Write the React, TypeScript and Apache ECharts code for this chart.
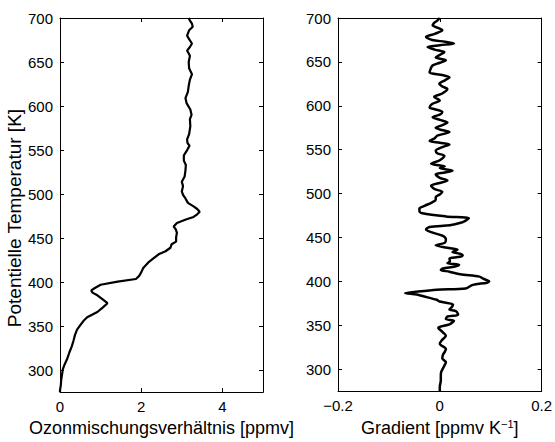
import React, { useEffect, useRef } from "react";
import * as echarts from "echarts";

// Left panel: ozone mixing ratio [ppmv] vs potential temperature [K]
const ozoneTheta = [
  275, 277, 283, 289, 295, 301, 306, 312, 320, 327, 333, 340, 346, 351, 356, 360, 366, 371, 376, 380,
  385, 388, 390.5, 393, 397, 400.5, 403.5, 407, 411, 416, 422, 427, 431.5, 435, 439, 443, 446, 451, 456, 460,
  463, 467, 471, 474, 477, 480, 483, 486, 490, 495, 499, 503, 509, 514, 520, 527, 533, 538, 544, 549,
  555, 558, 562, 568, 577, 585, 590, 596, 603, 609, 616, 623, 630, 636, 643, 650, 657, 663, 667, 671,
  676, 680, 686, 690, 693.5, 697, 700,
];
const ozoneValue = [
  0.0, 0.0, 0.02, 0.03, 0.05, 0.07, 0.11, 0.17, 0.23, 0.29, 0.33, 0.37, 0.42, 0.5, 0.58, 0.67, 0.92, 1.05, 1.17, 1.06,
  0.92, 0.8, 0.77, 0.85, 1.0, 1.42, 1.87, 1.95, 2.0, 2.05, 2.17, 2.3, 2.43, 2.6, 2.72, 2.75, 2.86, 2.86, 2.88, 2.85,
  2.8, 2.88, 3.1, 3.29, 3.38, 3.44, 3.38, 3.29, 3.15, 3.09, 3.03, 3.0, 3.03, 3.0, 3.07, 3.09, 3.1, 3.05, 3.05, 3.12,
  3.19, 3.14, 3.13, 3.18, 3.21, 3.2, 3.24, 3.21, 3.12, 3.09, 3.15, 3.17, 3.2, 3.25, 3.18, 3.17, 3.2, 3.13, 3.2, 3.25,
  3.18, 3.13, 3.18, 3.27, 3.25, 3.2, 3.17,
];

// Right panel: gradient [ppmv/K] vs potential temperature [K]
const gradTheta = [
  275, 280, 287, 293, 297, 304, 308, 312, 316, 320, 323, 329, 333, 338, 342, 347, 351, 355, 357, 360,
  362, 366, 368, 371, 373.6, 377, 379, 383, 385, 386.7, 388, 390.5, 392, 396, 398.5, 400, 403, 405.4, 408, 411,
  413, 414.7, 417, 419, 420.6, 423, 426, 428, 430, 431.5, 433.5, 436, 438, 441, 444, 448, 452, 455.5, 459, 462,
  464, 466.7, 469, 472, 474, 477.5, 480, 483, 486, 490, 493, 496, 499, 502, 505, 509, 512, 515, 518, 522,
  524, 526, 529, 531, 534, 538, 543, 546, 549, 553, 556, 558, 560, 563, 566, 570, 573, 575, 578, 581,
  584, 587, 590, 593, 596, 598, 602, 606, 610, 614, 619, 622, 625, 629, 632.5, 635, 638, 642, 646, 649,
  652, 655, 658, 661, 664, 667, 669, 671, 673, 675, 678.5, 682, 686, 689, 691.6, 694, 697, 700,
];
const gradValue = [
  0.0, 0.0, 0.002, 0.002, 0.003, 0.009, 0.012, 0.005, 0.006, 0.01, 0.012, 0.0, 0.004, 0.012, 0.006, -0.003, 0.019, 0.028, 0.012, 0.015,
  0.036, 0.032, 0.019, 0.024, 0.026, 0.0, -0.006, -0.032, -0.045, -0.068, -0.05, -0.006, 0.051, 0.065, 0.093, 0.097, 0.085, 0.078, 0.04, 0.019,
  0.002, 0.006, 0.03, 0.038, 0.015, 0.02, 0.019, 0.04, 0.045, 0.039, 0.025, 0.035, 0.018, -0.008, 0.01, 0.012, 0.005, -0.014, -0.027, -0.02,
  0.02, 0.041, 0.05, 0.057, 0.012, -0.034, -0.04, -0.04, -0.03, -0.015, -0.008, -0.008, 0.0, 0.005, -0.01, -0.017, 0.0, 0.015, 0.0, -0.008,
  0.01, 0.025, 0.0, 0.01, -0.017, 0.0, 0.009, -0.005, -0.008, 0.005, 0.019, 0.0, -0.02, -0.01, -0.005, 0.019, 0.0, -0.008, 0.005, 0.015,
  0.0, -0.014, 0.0, 0.005, -0.01, -0.02, -0.015, 0.0, -0.011, 0.005, 0.015, 0.005, -0.001, 0.01, 0.019, 0.005, -0.02, -0.018, -0.014, 0.0,
  0.012, -0.008, 0.0, 0.009, -0.01, -0.024, 0.0, 0.028, 0.01, -0.015, -0.027, -0.01, 0.005, -0.005, -0.014, -0.012, -0.005, 0.0,
];

const ozoneTicks = [0, 2, 4];
const gradTicks = [-0.2, 0, 0.2];
const thetaTicks = [300, 350, 400, 450, 500, 550, 600, 650, 700];

const yTitle = "Potentielle Temperatur [K]";
const xTitleLeft = "Ozonmischungsverhältnis [ppmv]";
const xTitleRight = "Gradient [ppmv K{sup|−1}]";

const FONT = "Liberation Sans, Arial, Helvetica, sans-serif";

export default function App() {
  const ref = useRef<HTMLDivElement>(null);
  useEffect(() => {
    document.body.style.margin = "0";
    const chart = echarts.init(ref.current!, null, { renderer: "svg" });
    const line = { color: "#000", width: 1 };
    const axLine = { show: true, onZero: false, lineStyle: line };
    const tick = { show: true, inside: true, length: 4, lineStyle: { color: "#000" } };
    const lbl = { color: "#000", fontSize: 15, fontFamily: FONT };
    const xFmt = (ticks: number[], minus: boolean) => (v: number) => {
      const hit = ticks.find((t) => Math.abs(t - v) < 1e-9);
      if (hit === undefined) return "";
      const s = String(hit);
      return minus ? s.replace("-", "−") : s;
    };
    const yFmt = (v: number) =>
      thetaTicks.indexOf(Math.round(v)) >= 0 && Math.abs(v - Math.round(v)) < 1e-9 ? String(Math.round(v)) : "";
    const yBase = {
      type: "value" as const,
      min: 275,
      max: 700,
      splitNumber: 8,
      minInterval: 50,
      maxInterval: 50,
      axisLine: axLine,
      axisTick: tick,
      splitLine: { show: false },
    };
    const option = {
      animation: false,
      backgroundColor: "#fff",
      grid: [
        { left: 60, top: 18, width: 203, height: 378 },
        { left: 338, top: 18, width: 205, height: 378 },
      ],
      xAxis: [
        {
          gridIndex: 0, type: "value", min: 0, max: 5, interval: 2, position: "bottom",
          axisLine: axLine, axisTick: tick, splitLine: { show: false },
          axisLabel: { ...lbl, margin: 7, formatter: xFmt(ozoneTicks, false) },
          name: xTitleLeft, nameLocation: "middle", nameGap: 22,
          nameTextStyle: { color: "#000", fontSize: 18, fontFamily: FONT },
        },
        {
          gridIndex: 0, type: "value", min: 0, max: 5, interval: 2, position: "top",
          axisLine: axLine, axisTick: tick, splitLine: { show: false },
          axisLabel: { show: false },
        },
        {
          gridIndex: 1, type: "value", min: -0.2, max: 0.2, interval: 0.2, position: "bottom",
          axisLine: axLine, axisTick: tick, splitLine: { show: false },
          axisLabel: { ...lbl, margin: 7, formatter: xFmt(gradTicks, true) },
          name: xTitleRight, nameLocation: "middle", nameGap: 22,
          nameTextStyle: {
            color: "#000", fontSize: 18, fontFamily: FONT,
            rich: { sup: { fontSize: 11, fontFamily: FONT, color: "#000", padding: [0, 0, 9, 0] } },
          },
        },
        {
          gridIndex: 1, type: "value", min: -0.2, max: 0.2, interval: 0.2, position: "top",
          axisLine: axLine, axisTick: tick, splitLine: { show: false },
          axisLabel: { show: false },
        },
      ],
      yAxis: [
        {
          ...yBase, gridIndex: 0, position: "left",
          axisLabel: { ...lbl, margin: 7, formatter: yFmt },
          name: yTitle, nameLocation: "middle", nameGap: 27, nameRotate: 90,
          nameTextStyle: { color: "#000", fontSize: 19, fontFamily: FONT, padding: [0, 26, 0, 0] },
        },
        { ...yBase, gridIndex: 0, position: "right", axisLabel: { show: false } },
        { ...yBase, gridIndex: 1, position: "left", axisLabel: { ...lbl, margin: 7, formatter: yFmt } },
        { ...yBase, gridIndex: 1, position: "right", axisLabel: { show: false } },
      ],
      series: [
        {
          type: "line", xAxisIndex: 0, yAxisIndex: 0, showSymbol: false, symbol: "none",
          data: ozoneTheta.map((t, i) => [ozoneValue[i], t]),
          lineStyle: { color: "#000", width: 2.2 }, smooth: false,
        },
        {
          type: "line", xAxisIndex: 2, yAxisIndex: 2, showSymbol: false, symbol: "none",
          data: gradTheta.map((t, i) => [gradValue[i], t]),
          lineStyle: { color: "#000", width: 2.5 }, smooth: 0.3,
        },
      ],
    };
    chart.setOption(option as any);
    return () => chart.dispose();
  }, []);
  return <div ref={ref} style={{ width: 555, height: 442 }} />;
}
